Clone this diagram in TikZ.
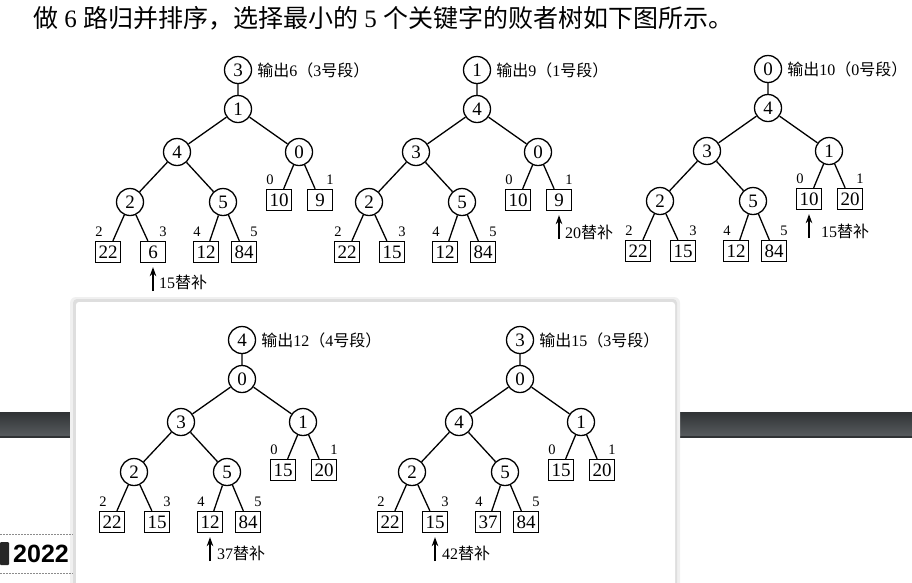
\documentclass[tikz,border=0pt]{standalone}
\usepackage{fontspec}
\setmainfont{Liberation Serif}
\newfontfamily\cjk{Noto Sans CJK SC}
\newfontfamily\headfont{Liberation Sans}
\usetikzlibrary{arrows.meta,calc,positioning}

\definecolor{bandtop}{HTML}{303335}
\definecolor{bandmid}{HTML}{575B5E}

\tikzset{
  loser/.style={circle, draw, line width=1.3pt, minimum size=27pt, inner sep=0pt, font=\fontsize{19}{19}\selectfont},
  leaf/.style={rectangle, draw, line width=1.3pt, minimum width=25pt, minimum height=21pt, inner sep=1pt, font=\fontsize{19}{19}\selectfont},
  seglab/.style={font=\fontsize{14.5}{14.5}\selectfont, inner sep=0pt},
  outtext/.style={font=\fontsize{16}{17}\selectfont, inner sep=0pt},
  repl/.style={-{Stealth[length=9pt,width=6.5pt]}, line width=1.3pt, shorten >=4pt},
  branch/.style={line width=1.3pt},
}

% one loser tree: name, top position, inner nodes, leaves, output key
\newcommand{\losertree}[5]{%
  \begin{scope}[shift={#2}]
    \foreach \kt/\ka/\kb/\kc/\kd/\ke in {#3} {
      \node[loser] (#1t) at (0,0) {\kt};
      \node[loser] (#1a) at (0,39) {\ka};
      \node[loser] (#1b) at (-61,82) {\kb};
      \node[loser] (#1c) at (61,82) {\kc};
      \node[loser] (#1d) at (-108,132) {\kd};
      \node[loser] (#1e) at (-15,132) {\ke};
      \node[outtext, right=5pt of #1t] (#1out) {{\cjk 输出}#5{\cjk （}\kt{\cjk 号段）}};
    }
    \foreach \ya/\yb/\yc/\yd/\ye/\yf in {#4} {
      \node[leaf] (#1l0) at (41,130) {\ya};
      \node[leaf] (#1l1) at (82,130) {\yb};
      \node[leaf] (#1l2) at (-130,182) {\yc};
      \node[leaf] (#1l3) at (-85,182) {\yd};
      \node[leaf] (#1l4) at (-32,182) {\ye};
      \node[leaf] (#1l5) at (6,182) {\yf};
    }
  \end{scope}
  \draw[branch] (#1t) -- (#1a) (#1a) -- (#1b) (#1a) -- (#1c)
    (#1b) -- (#1d) (#1b) -- (#1e)
    (#1c) -- (#1l0) (#1c) -- (#1l1) (#1d) -- (#1l2) (#1d) -- (#1l3)
    (#1e) -- (#1l4) (#1e) -- (#1l5);
  \foreach \i/\dx in {0/-9,1/10,2/-9,3/10,4/-9,5/10}
    \node[seglab] at ($(#1l\i)+(\dx,-20)$) {\i};
}

\begin{document}
\begin{tikzpicture}[x=1pt, y=-1pt]
  \useasboundingbox (0,0) rectangle (912,582);
  \fill[white] (0,0) rectangle (912,582);

  % page background: dark band, panel, year mark
  \shade[top color=bandtop, bottom color=bandmid] (0,412) rectangle (912,436);
  \fill[bandtop] (0,436) rectangle (912,438);
  \fill[black!6, rounded corners=6pt] (70,297) rectangle (680,600);
  \fill[black!13, rounded corners=4pt] (73,299) rectangle (677,600);
  \fill[white, rounded corners=3pt] (76,302) rectangle (675,600);
  \draw[black!45, dashed, dash pattern=on 2pt off 1pt] (0,534) -- (73,534) (0,573) -- (73,573);
  \fill[black!85, rounded corners=1pt] (0,542) rectangle (9,565);
  \node[anchor=west, inner sep=0pt, font=\headfont\bfseries\fontsize{25}{25}\selectfont] (year) at (13,554) {2022};

  \node[anchor=west, inner sep=0pt, font=\fontsize{25}{25}\selectfont] (title) at (33,18)
    {{\cjk 做} 6 {\cjk 路归并排序，选择最小的} 5 {\cjk 个关键字的败者树如下图所示。}};

  \losertree{t1}{(238,70)}{3/1/4/0/2/5}{10/9/22/6/12/84}{6}
  \losertree{t2}{(477,70)}{1/4/3/0/2/5}{10/9/22/15/12/84}{9}
  \losertree{t3}{(768,69)}{0/4/3/1/2/5}{10/20/22/15/12/84}{10}
  \losertree{t4}{(242,340)}{4/0/3/1/2/5}{15/20/22/15/12/84}{12}
  \losertree{t5}{(520,340)}{3/0/4/1/2/5}{15/20/22/15/37/84}{15}

  % replacements
  \coordinate (t1r) at ($(t1l3.south)+(0,28)$);
  \draw[repl] (t1r) -- (t1l3);
  \node[outtext, anchor=west] (t1rl) at ($(t1r)+(6,-9)$) {15{\cjk 替补}};
  \coordinate (t2r) at ($(t2l1.south)+(0,28)$);
  \draw[repl] (t2r) -- (t2l1);
  \node[outtext, anchor=west] (t2rl) at ($(t2r)+(6,-7)$) {20{\cjk 替补}};
  \coordinate (t3r) at ($(t3l0.south)+(0,28)$);
  \draw[repl] (t3r) -- (t3l0);
  \node[outtext, anchor=west] (t3rl) at ($(t3r)+(12,-7)$) {15{\cjk 替补}};
  \coordinate (t4r) at ($(t4l4.south)+(0,28)$);
  \draw[repl] (t4r) -- (t4l4);
  \node[outtext, anchor=west] (t4rl) at ($(t4r)+(7,-8)$) {37{\cjk 替补}};
  \coordinate (t5r) at ($(t5l3.south)+(0,28)$);
  \draw[repl] (t5r) -- (t5l3);
  \node[outtext, anchor=west] (t5rl) at ($(t5r)+(7,-8)$) {42{\cjk 替补}};
\end{tikzpicture}
\end{document}
